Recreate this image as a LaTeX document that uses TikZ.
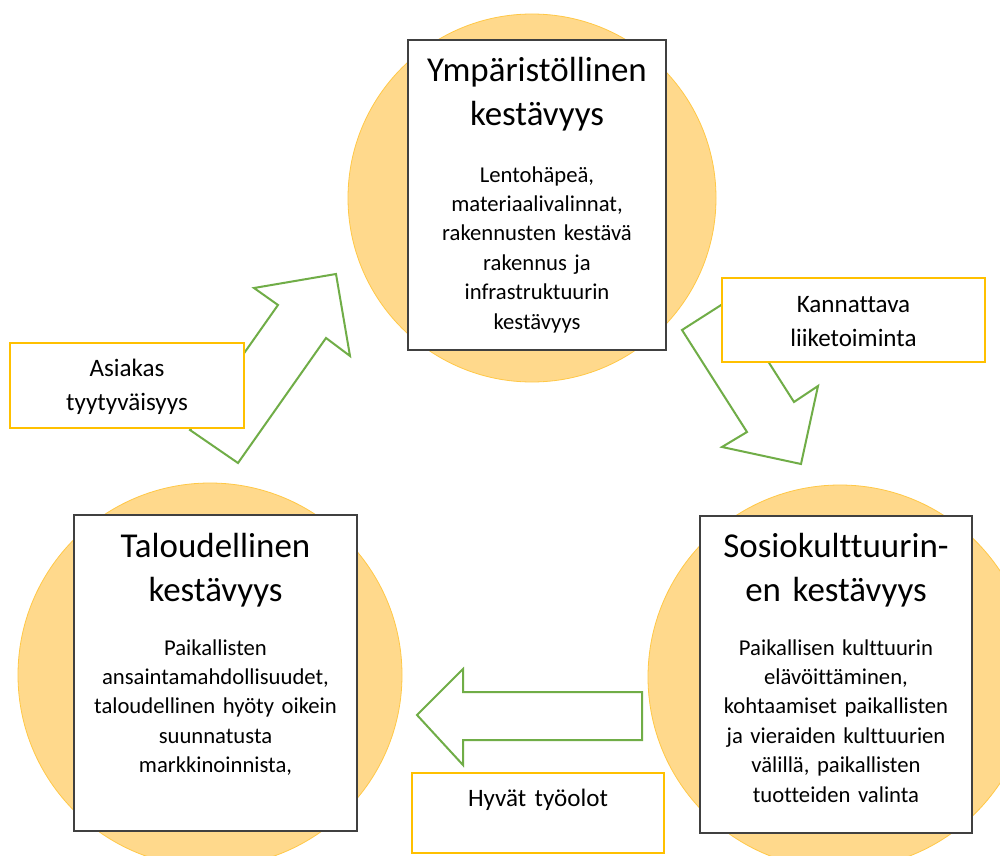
\documentclass[tikz,border=0pt]{standalone}
\usepackage{fontspec}
\setmainfont[Ligatures=NoCommon]{Carlito}
\definecolor{circfill}{HTML}{FFD98C}
\definecolor{circline}{HTML}{FFC846}
\definecolor{gold}{HTML}{FFC000}
\definecolor{grn}{HTML}{70AD47}
\definecolor{boxline}{HTML}{404040}
\begin{document}
\begin{tikzpicture}[x=0.75pt,y=-0.75pt,
  circ/.style={fill=circfill,draw=circline,line width=0.6pt},
  garrow/.style={draw=grn,fill=white,line width=1.5pt,line join=miter},
  mainbox/.style={draw=boxline,fill=white,line width=1.1pt,rectangle,inner sep=0pt},
  ybox/.style={draw=gold,fill=white,line width=1.5pt,rectangle,inner sep=0pt},
  titletext/.style={anchor=base,inner sep=0pt,align=center,text width=#1,font=\fontsize{26.2}{33}\selectfont},
  bodytext/.style={anchor=base,inner sep=0pt,align=center,text width=#1,font=\fontsize{17}{22.1}\selectfont},
  ytext/.style={anchor=base,inner sep=0pt,align=center,text width=#1,font=\fontsize{18.8}{25.5}\selectfont}
]
\clip (0,0) rectangle (1000,856);
\fill[white] (0,0) rectangle (1000,856);
% circles
\draw[circ] (532,198) circle[radius=138pt];
\draw[circ] (210,675) circle[radius=144pt];
\draw[circ] (840,677) circle[radius=144pt];
% block arrows
\draw[garrow] (336,274) -- (350,356) -- (326,338) -- (238,463) -- (190,430) -- (278,305) -- (254,288) -- cycle;
\draw[garrow] (682,330) -- (747,432) -- (722,447) -- (801,464) -- (818,386) -- (794,402) -- (729,300) -- cycle;
\draw[garrow] (417,715) -- (463,669) -- (463,692) -- (642,692) -- (642,740) -- (463,740) -- (463,765) -- cycle;
% main boxes
\node[mainbox,minimum width=193.5pt,minimum height=232.5pt] (env) at (537,195) {};
\node[titletext=190pt] (envt) at (537,82) {Ympäristöllinen\\kestävyys};
\node[bodytext=190pt] (envb) at (537,182) {Lentohäpeä,\\materiaalivalinnat,\\rakennusten kestävä\\rakennus ja\\infrastruktuurin\\kestävyys};
\node[mainbox,minimum width=212.25pt,minimum height=237pt] (eco) at (215.5,673) {};
\node[titletext=205pt] (ecot) at (215.5,557) {Taloudellinen\\kestävyys};
\node[bodytext=205pt] (ecob) at (215.5,655) {Paikallisten\\ansaintamahdollisuudet,\\taloudellinen hyöty oikein\\suunnatusta\\markkinoinnista,};
\node[mainbox,minimum width=204pt,minimum height=237.75pt] (soc) at (836,674.5) {};
\node[titletext=200pt] (soct) at (836,557) {Sosiokulttuurin-\\en kestävyys};
\node[bodytext=200pt] (socb) at (836,655) {Paikallisen kulttuurin\\elävöittäminen,\\kohtaamiset paikallisten\\ja vieraiden kulttuurien\\välillä, paikallisten\\tuotteiden valinta};
% yellow boxes
\node[ybox,minimum width=175.5pt,minimum height=63.75pt] (cust) at (127,385.5) {};
\node[ytext=170pt] (custt) at (127,376) {Asiakas\\tyytyväisyys};
\node[ybox,minimum width=197.25pt,minimum height=63pt] (prof) at (853.5,320) {};
\node[ytext=190pt] (proft) at (853.5,312) {Kannattava\\liiketoiminta};
\node[ybox,minimum width=189pt,minimum height=60pt] (work) at (538,813) {};
\node[ytext=185pt] (workt) at (538,806) {Hyvät työolot};
\end{tikzpicture}
\end{document}
